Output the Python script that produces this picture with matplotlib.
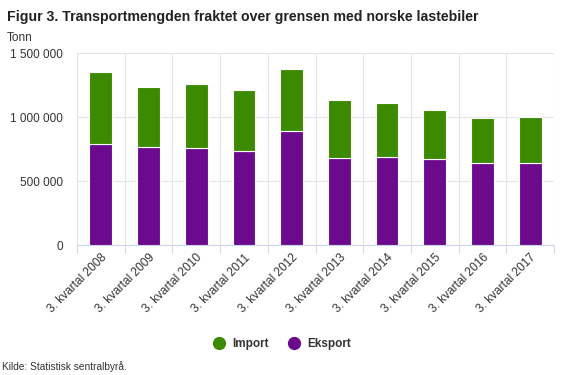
import matplotlib
matplotlib.use("Agg")
import matplotlib.pyplot as plt
import numpy as np
from matplotlib.lines import Line2D

plt.rcParams['font.family'] = ['Liberation Sans', 'DejaVu Sans']

categories = ["3. kvartal 2008", "3. kvartal 2009", "3. kvartal 2010", "3. kvartal 2011",
              "3. kvartal 2012", "3. kvartal 2013", "3. kvartal 2014", "3. kvartal 2015",
              "3. kvartal 2016", "3. kvartal 2017"]
eksport = [792000, 768000, 760000, 732000, 893000, 682000, 690000, 674000, 638000, 638000]
totals = [1352000, 1234000, 1263000, 1211000, 1378000, 1138000, 1109000, 1057000, 992000, 1005000]
importv = [t - e for t, e in zip(totals, eksport)]
yticks = [0, 500000, 1000000, 1500000]
ytick_labels = ["0", "500 000", "1 000 000", "1 500 000"]

GREEN = "#3b8a00"
PURPLE = "#6b0a8c"

fig = plt.figure(figsize=(5.63, 3.75), dpi=100)
ax = fig.add_axes([77/563, 1-245/375, (554-77)/563, (245-53.3)/375])

x = np.arange(len(categories))
ax.bar(x, eksport, width=0.48, color=PURPLE, edgecolor="white", linewidth=0.8, zorder=3)
ax.bar(x, importv, bottom=eksport, width=0.48, color=GREEN, edgecolor="white", linewidth=0.8, zorder=3)

ax.set_xlim(-0.5, len(categories)-0.5)
ax.set_ylim(0, 1500000)
ax.set_yticks(yticks)
ax.set_yticklabels(ytick_labels, fontsize=8.5, color="#333333")
ax.tick_params(axis='y', length=0, pad=10)

ax.set_xticks(x)
ax.set_xticklabels(categories, rotation=45, ha='right', rotation_mode='anchor', fontsize=8.6, color="#333333")
ax.tick_params(axis='x', length=0, pad=5)
ax.set_xticks(np.arange(-0.5, len(categories)), minor=True)
ax.tick_params(axis='x', which='minor', length=6, color="#dcdcdc", width=0.8)

ax.grid(axis='y', color="#e6e6e6", linewidth=0.8, zorder=0)
ax.grid(axis='x', which='minor', color="#e6e6e6", linewidth=0.8, zorder=0)
for s in ['top', 'right', 'left']:
    ax.spines[s].set_visible(False)
ax.spines['bottom'].set_color("#ccd6eb")
ax.spines['bottom'].set_linewidth(0.8)

fig.text(7/563, 1-17/375, "Figur 3. Transportmengden fraktet over grensen med norske lastebiler",
         fontsize=10.2, fontweight='bold', color="#222222", va='center', ha='left')
fig.text(7/563, 1-38/375, "Tonn", fontsize=8.5, color="#333333", va='center', ha='left')
fig.text(2/563, 1-367/375, "Kilde: Statistisk sentralbyrå.", fontsize=7.3, color="#333333", va='center', ha='left')

handles = [Line2D([], [], marker='o', linestyle='none', markersize=8.5, color=GREEN, label="Import"),
           Line2D([], [], marker='o', linestyle='none', markersize=8.5, color=PURPLE, label="Eksport")]
leg = fig.legend(handles=handles, loc='center', bbox_to_anchor=(282/563, 1-344/375), ncol=2,
                 frameon=False, handletextpad=0.6, columnspacing=1.7, handlelength=1.0,
                 prop={'weight': 'bold', 'size': 8.5})
for t in leg.get_texts():
    t.set_color("#333333")

fig.savefig("out.png", dpi=100)
